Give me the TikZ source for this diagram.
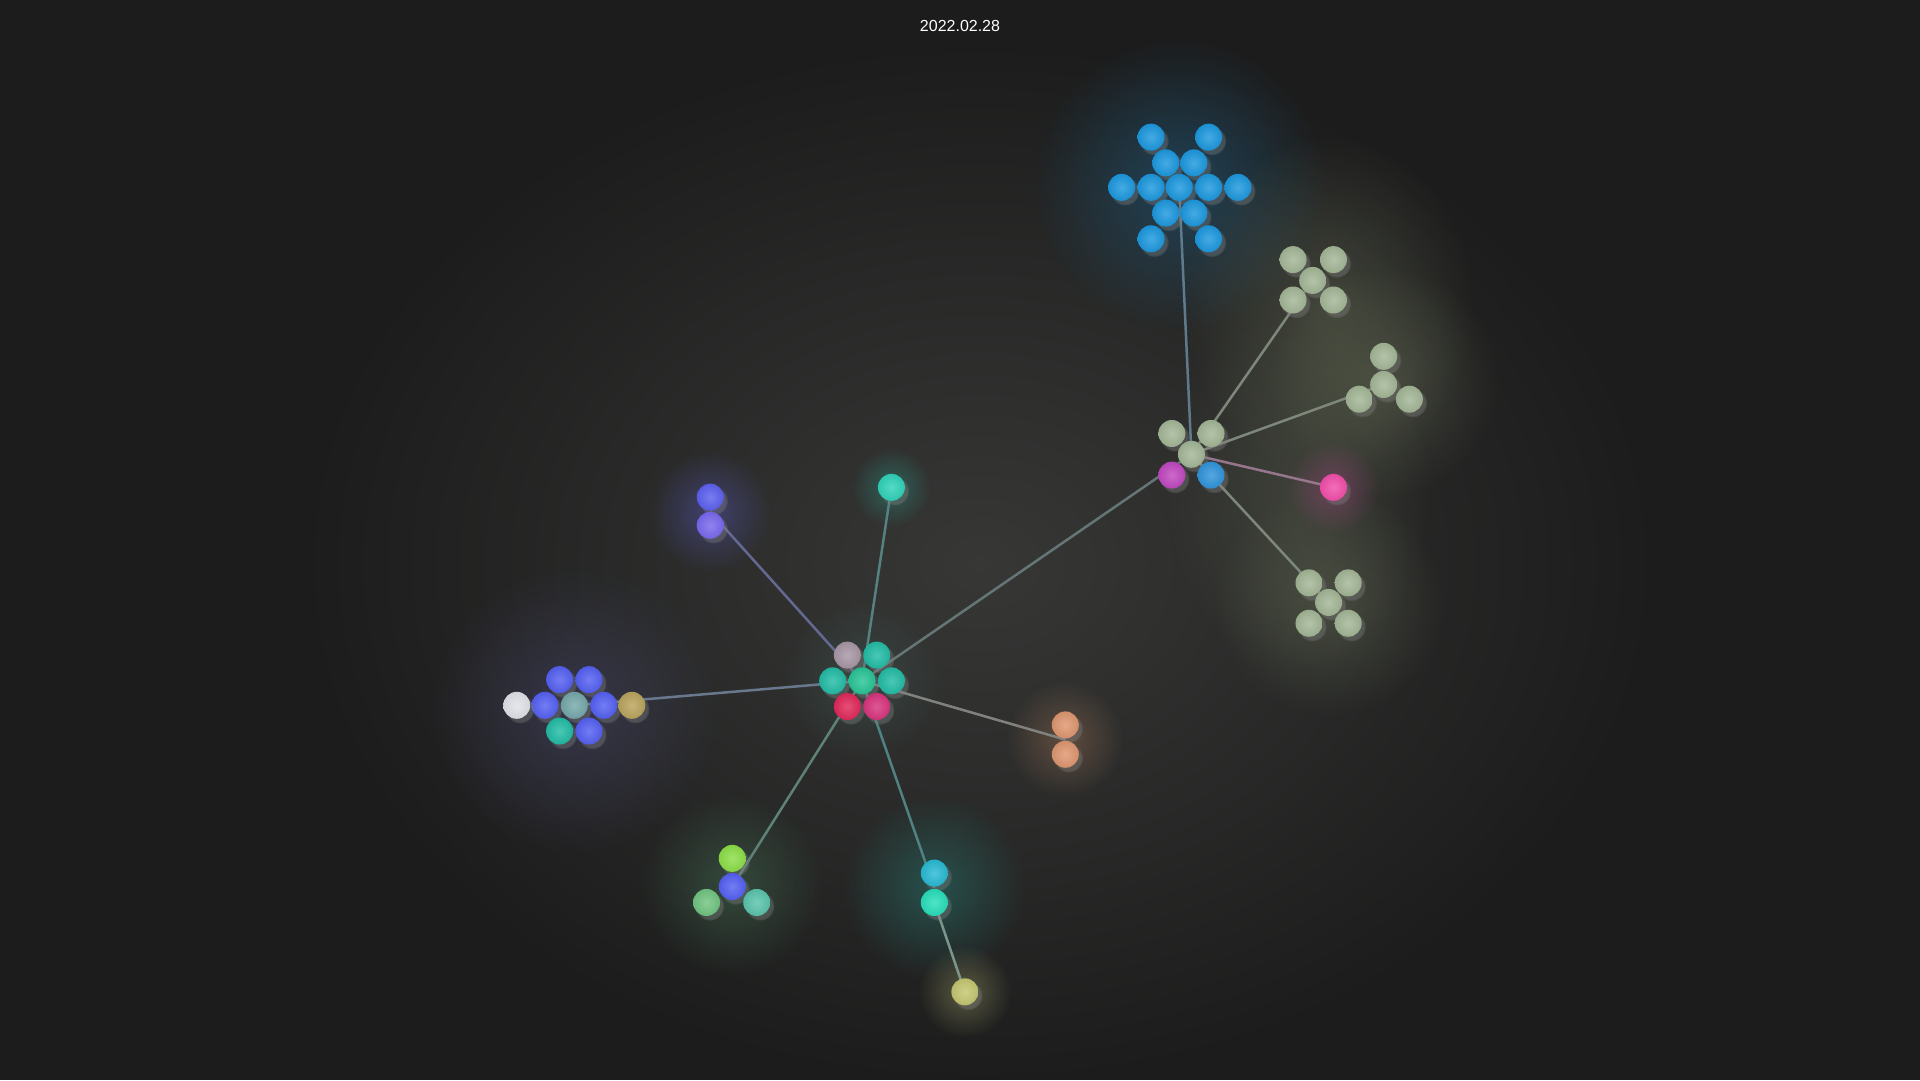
\documentclass[tikz,border=0pt]{standalone}
\usepackage{fontspec}
\setmainfont{Liberation Sans}
\usetikzlibrary{shadows,fadings}
\tikzfading[name=glowfade, inner color=transparent!0, outer color=transparent!100]
\pgfdeclarelayer{back}
\pgfdeclarelayer{glow}
\pgfdeclarelayer{edges}
\pgfsetlayers{back,glow,edges,main}
\definecolor{bgc}{RGB}{28,28,28}
\definecolor{cblue}{RGB}{28,152,222}
\definecolor{csage}{RGB}{163,182,150}
\definecolor{cmag}{RGB}{192,72,192}
\definecolor{chblue}{RGB}{48,148,218}
\definecolor{cpink}{RGB}{242,78,170}
\definecolor{cmauve}{RGB}{168,150,165}
\definecolor{cteal}{RGB}{34,188,165}
\definecolor{cteal2}{RGB}{40,196,150}
\definecolor{cred}{RGB}{225,40,90}
\definecolor{cred2}{RGB}{215,52,125}
\definecolor{cteal3}{RGB}{48,210,185}
\definecolor{cviol1}{RGB}{92,96,238}
\definecolor{cviol2}{RGB}{122,104,238}
\definecolor{cbl}{RGB}{84,96,242}
\definecolor{cgt}{RGB}{118,168,170}
\definecolor{cwhite}{RGB}{225,226,232}
\definecolor{cgold}{RGB}{186,164,92}
\definecolor{corange}{RGB}{222,150,112}
\definecolor{clime}{RGB}{140,222,72}
\definecolor{cgreen}{RGB}{112,196,128}
\definecolor{ctq}{RGB}{90,196,172}
\definecolor{ccyan}{RGB}{40,186,212}
\definecolor{cmint}{RGB}{40,222,186}
\definecolor{cyel}{RGB}{196,198,112}
% glow colours
\definecolor{gwide}{RGB}{78,80,76}
\definecolor{gblue}{RGB}{30,105,150}
\definecolor{gsage}{RGB}{110,118,92}
\definecolor{gpink}{RGB}{200,80,160}
\definecolor{gviol}{RGB}{95,95,210}
\definecolor{gleft}{RGB}{80,80,130}
\definecolor{gorange}{RGB}{190,135,100}
\definecolor{ggreen}{RGB}{80,145,105}
\definecolor{gcyan}{RGB}{40,145,135}
\definecolor{gyel}{RGB}{175,175,115}
\definecolor{gteal}{RGB}{40,185,165}
\definecolor{gcent}{RGB}{70,105,100}
% edge colours
\definecolor{eblue}{RGB}{95,122,138}
\definecolor{esage}{RGB}{125,135,122}
\definecolor{epink}{RGB}{150,118,140}
\definecolor{emid}{RGB}{100,118,118}
\definecolor{eteal}{RGB}{85,130,128}
\definecolor{eviol}{RGB}{100,105,145}
\definecolor{eleft}{RGB}{105,120,140}
\definecolor{eorange}{RGB}{128,130,125}
\definecolor{egreen}{RGB}{95,130,120}
\definecolor{ecyan}{RGB}{80,130,130}
\definecolor{eyel}{RGB}{125,150,140}
\tikzset{
  ball/.style={circle, minimum size=27pt, inner sep=0pt, shading=radial,
    inner color=#1!82!white, outer color=#1!94!black,
    circular drop shadow={shadow xshift=3pt, shadow yshift=-3.5pt, shadow scale=1.08, opacity=0.4}},
  link/.style={draw=#1, line width=2.5pt},
  glowc/.style={fill=#1, path fading=glowfade}
}
\begin{document}
\begin{tikzpicture}[x=1.2245pt,y=-1.2245pt]
\begin{pgfonlayer}{back}
\fill[bgc] (0,0) rectangle (1568,882);
\end{pgfonlayer}
\useasboundingbox (0,0) rectangle (1568,882);
\node[text=white, font=\fontsize{16}{18}\selectfont] (date) at (784,21) {2022.02.28};

% blue cluster
\node[ball=cblue] (b1) at (940,112) {};
\node[ball=cblue] (b2) at (987,112) {};
\node[ball=cblue] (b3) at (952,133) {};
\node[ball=cblue] (b4) at (975,133) {};
\node[ball=cblue] (b5) at (916,153) {};
\node[ball=cblue] (b6) at (940,153) {};
\node[ball=cblue] (b7) at (963,153) {};
\node[ball=cblue] (b8) at (987,153) {};
\node[ball=cblue] (b9) at (1011,153) {};
\node[ball=cblue] (b10) at (952,174) {};
\node[ball=cblue] (b11) at (975,174) {};
\node[ball=cblue] (b12) at (940,195) {};
\node[ball=cblue] (b13) at (987,195) {};
% sage A
\node[ball=csage] (a1) at (1056,212) {};
\node[ball=csage] (a2) at (1089,212) {};
\node[ball=csage] (a3) at (1072,229) {};
\node[ball=csage] (a4) at (1056,245) {};
\node[ball=csage] (a5) at (1089,245) {};
% sage B
\node[ball=csage] (s1) at (1130,291) {};
\node[ball=csage] (s2) at (1130,314) {};
\node[ball=csage] (s3) at (1110,326) {};
\node[ball=csage] (s4) at (1151,326) {};
% sage C
\node[ball=csage] (t1) at (1069,476) {};
\node[ball=csage] (t2) at (1101,476) {};
\node[ball=csage] (t3) at (1085,492) {};
\node[ball=csage] (t4) at (1069,509) {};
\node[ball=csage] (t5) at (1101,509) {};
% right hub
\node[ball=csage] (h1) at (957,354) {};
\node[ball=csage] (h2) at (989,354) {};
\node[ball=csage] (h3) at (973,371) {};
\node[ball=cmag] (h4) at (957,388) {};
\node[ball=chblue] (h5) at (989,388) {};
\node[ball=cpink] (pk) at (1089,398) {};
% central hub
\node[ball=cmauve] (c1) at (692,535) {};
\node[ball=cteal] (c2) at (716,535) {};
\node[ball=cteal] (c3) at (680,556) {};
\node[ball=cteal2] (c4) at (704,556) {};
\node[ball=cteal] (c5) at (728,556) {};
\node[ball=cred] (c6) at (692,577) {};
\node[ball=cred2] (c7) at (716,577) {};
% single teal
\node[ball=cteal3] (ts) at (728,398) {};
% purple pair
\node[ball=cviol1] (p1) at (580,406) {};
\node[ball=cviol2] (p2) at (580,429) {};
\coordinate (pc) at (580,418);
% left cluster
\node[ball=cbl] (l1) at (457,555) {};
\node[ball=cbl] (l2) at (481,555) {};
\node[ball=cbl] (l3) at (445,576) {};
\node[ball=cgt] (l4) at (469,576) {};
\node[ball=cbl] (l5) at (493,576) {};
\node[ball=cteal] (l6) at (457,597) {};
\node[ball=cbl] (l7) at (481,597) {};
\node[ball=cwhite] (l8) at (422,576) {};
\node[ball=cgold] (l9) at (516,576) {};
% orange pair
\node[ball=corange] (o1) at (870,592) {};
\node[ball=corange] (o2) at (870,616) {};
\coordinate (oc) at (870,604);
% green trio
\node[ball=clime] (g1) at (598,701) {};
\node[ball=cbl] (g2) at (598,724) {};
\node[ball=cgreen] (g3) at (577,737) {};
\node[ball=ctq] (g4) at (618,737) {};
% cyan pair
\node[ball=ccyan] (y1) at (763,713) {};
\node[ball=cmint] (y2) at (763,737) {};
\coordinate (yc) at (763,725);
\node[ball=cyel] (yl) at (788,810) {};

\begin{pgfonlayer}{glow}
\fill[glowc=gwide, opacity=0.55] (800,460) ellipse (560 and 430);
\fill[glowc=gblue, opacity=0.45] (963,150) circle (120);
\fill[glowc=gsage, opacity=0.4] (1085,250) ellipse (120 and 140);
\fill[glowc=gsage, opacity=0.4] (1130,312) circle (95);
\fill[glowc=gsage, opacity=0.4] (1085,492) circle (95);
\fill[glowc=gsage, opacity=0.3] (1060,400) ellipse (110 and 150);
\fill[glowc=gpink, opacity=0.35] (1089,398) circle (38);
\fill[glowc=gviol, opacity=0.4] (580,418) circle (50);
\fill[glowc=gleft, opacity=0.4] (469,580) circle (120);
\fill[glowc=gorange, opacity=0.35] (870,604) circle (48);
\fill[glowc=ggreen, opacity=0.35] (598,722) circle (75);
\fill[glowc=gcyan, opacity=0.4] (763,725) circle (75);
\fill[glowc=gyel, opacity=0.4] (788,810) circle (38);
\fill[glowc=gteal, opacity=0.35] (728,398) circle (32);
\fill[glowc=gcent, opacity=0.35] (704,556) circle (65);
\end{pgfonlayer}

\begin{pgfonlayer}{edges}
\draw[link=eblue] (h3.center) -- (b7.center);
\draw[link=esage] (h3.center) -- (a3.center);
\draw[link=esage] (h3.center) -- (s2.center);
\draw[link=epink] (h3.center) -- (pk.center);
\draw[link=esage] (h3.center) -- (t3.center);
\draw[link=emid] (c4.center) -- (h3.center);
\draw[link=eteal] (c4.center) -- (ts.center);
\draw[link=eviol] (c4.center) -- (pc);
\draw[link=eleft] (c4.center) -- (l4.center);
\draw[link=eorange] (c4.center) -- (oc);
\draw[link=egreen] (c4.center) -- (g2.center);
\draw[link=ecyan] (c4.center) -- (yc);
\draw[link=eyel] (y2.center) -- (yl.center);
\end{pgfonlayer}
\end{tikzpicture}
\end{document}
